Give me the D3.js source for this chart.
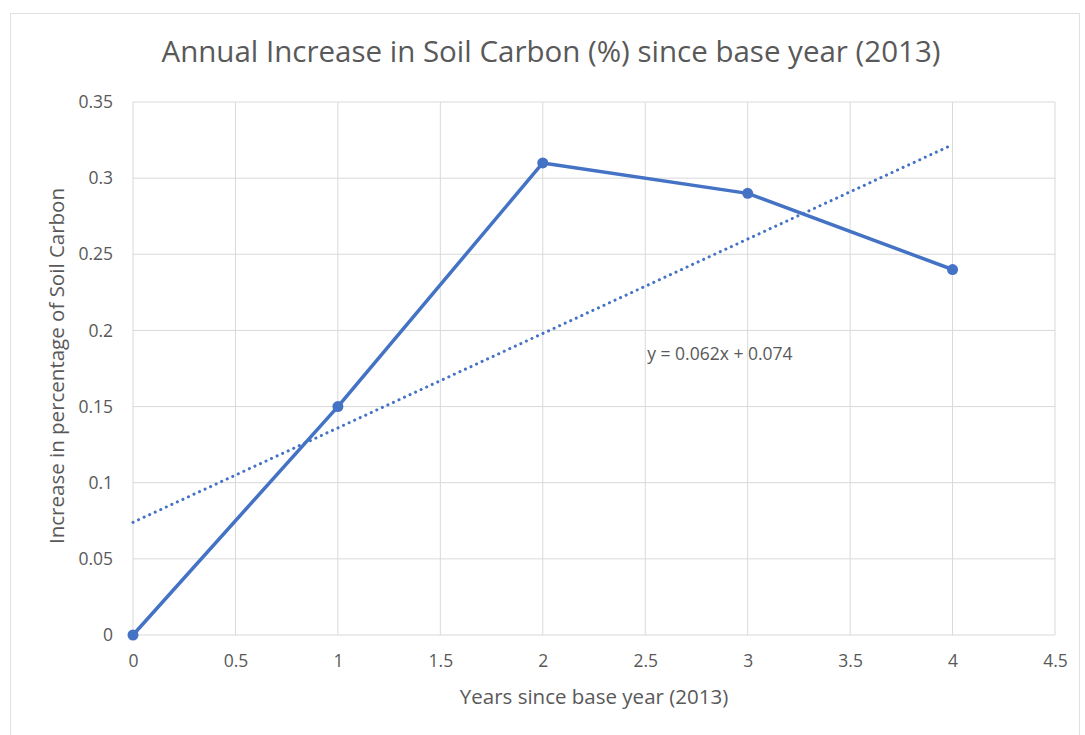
<!DOCTYPE html>
<html><head><meta charset="utf-8">
<script src="https://cdn.jsdelivr.net/npm/d3@7"></script>
<style>body{margin:0;background:#fff;} text{font-family:"Open Sans",sans-serif;}</style>
</head><body>
<svg id="c" width="1085" height="735"></svg>
<script>
const years = [0, 1, 2, 3, 4];
const soilCarbon = [0, 0.15, 0.31, 0.29, 0.24];
const trendSlope = 0.062, trendIntercept = 0.074;
const xTicks = [0, 0.5, 1, 1.5, 2, 2.5, 3, 3.5, 4, 4.5];
const yTicks = [0, 0.05, 0.1, 0.15, 0.2, 0.25, 0.3, 0.35];
const title = "Annual Increase in Soil Carbon (%) since base year (2013)";
const xLabel = "Years since base year (2013)";
const yLabel = "Increase in percentage of Soil Carbon";
const eqLabel = "y = 0.062x + 0.074";

const svg = d3.select("#c");
const blue = "#4472C4", grid = "#d9d9d9", txt = "#595959";
svg.append("rect").attr("x",10.5).attr("y",13.5).attr("width",1069).attr("height",730).attr("fill","#fff").attr("stroke","#e0e0e0");

const x = d3.scaleLinear().domain([0,4.5]).range([133,1055]);
const y = d3.scaleLinear().domain([0,0.35]).range([635,102]);

const g = svg.append("g");
g.selectAll(".vg").data(xTicks).join("line").attr("x1",d=>x(d)).attr("x2",d=>x(d)).attr("y1",y(0)).attr("y2",y(0.35)).attr("stroke",grid).attr("stroke-width",1);
g.selectAll(".hg").data(yTicks).join("line").attr("y1",d=>y(d)).attr("y2",d=>y(d)).attr("x1",x(0)).attr("x2",x(4.5)).attr("stroke",grid).attr("stroke-width",1);

const xa = svg.append("g").attr("transform",`translate(0,${y(0)})`).call(d3.axisBottom(x).tickValues(xTicks).tickSize(0).tickPadding(20).tickFormat(d=>String(d)));
const ya = svg.append("g").attr("transform",`translate(${x(0)},0)`).call(d3.axisLeft(y).tickValues(yTicks).tickSize(0).tickPadding(20).tickFormat(d=>String(d)));
[xa,ya].forEach(a=>{a.select(".domain").remove();a.selectAll("text").attr("fill",txt).style("font-size","17.5px").style("font-family","'Open Sans',sans-serif");});

// trendline
const tl = d3.line().x(d=>x(d)).y(d=>y(trendIntercept+trendSlope*d));
svg.append("path").attr("d",tl([0,4])).attr("fill","none").attr("stroke",blue).attr("stroke-width",3).attr("stroke-linecap","round").attr("stroke-dasharray","0.1 6");

const line = d3.line().x((d,i)=>x(years[i])).y(d=>y(d));
svg.append("path").attr("d",line(soilCarbon)).attr("fill","none").attr("stroke",blue).attr("stroke-width",3.5).attr("stroke-linejoin","round");
svg.selectAll(".pt").data(soilCarbon).join("circle").attr("cx",(d,i)=>x(years[i])).attr("cy",d=>y(d)).attr("r",5.5).attr("fill",blue);

svg.append("text").attr("x",x(2.5)+2).attr("y",y(0.2)+30).attr("fill",txt).style("font-size","17.5px").text(eqLabel);

svg.append("text").attr("x",551).attr("y",62).attr("text-anchor","middle").attr("fill",txt).style("font-size","29.5px").text(title);
svg.append("text").attr("x",594).attr("y",704).attr("text-anchor","middle").attr("fill",txt).style("font-size","20.5px").text(xLabel);
svg.append("text").attr("transform","translate(64,366) rotate(-90)").attr("text-anchor","middle").attr("fill",txt).style("font-size","20.5px").text(yLabel);
</script></body></html>
